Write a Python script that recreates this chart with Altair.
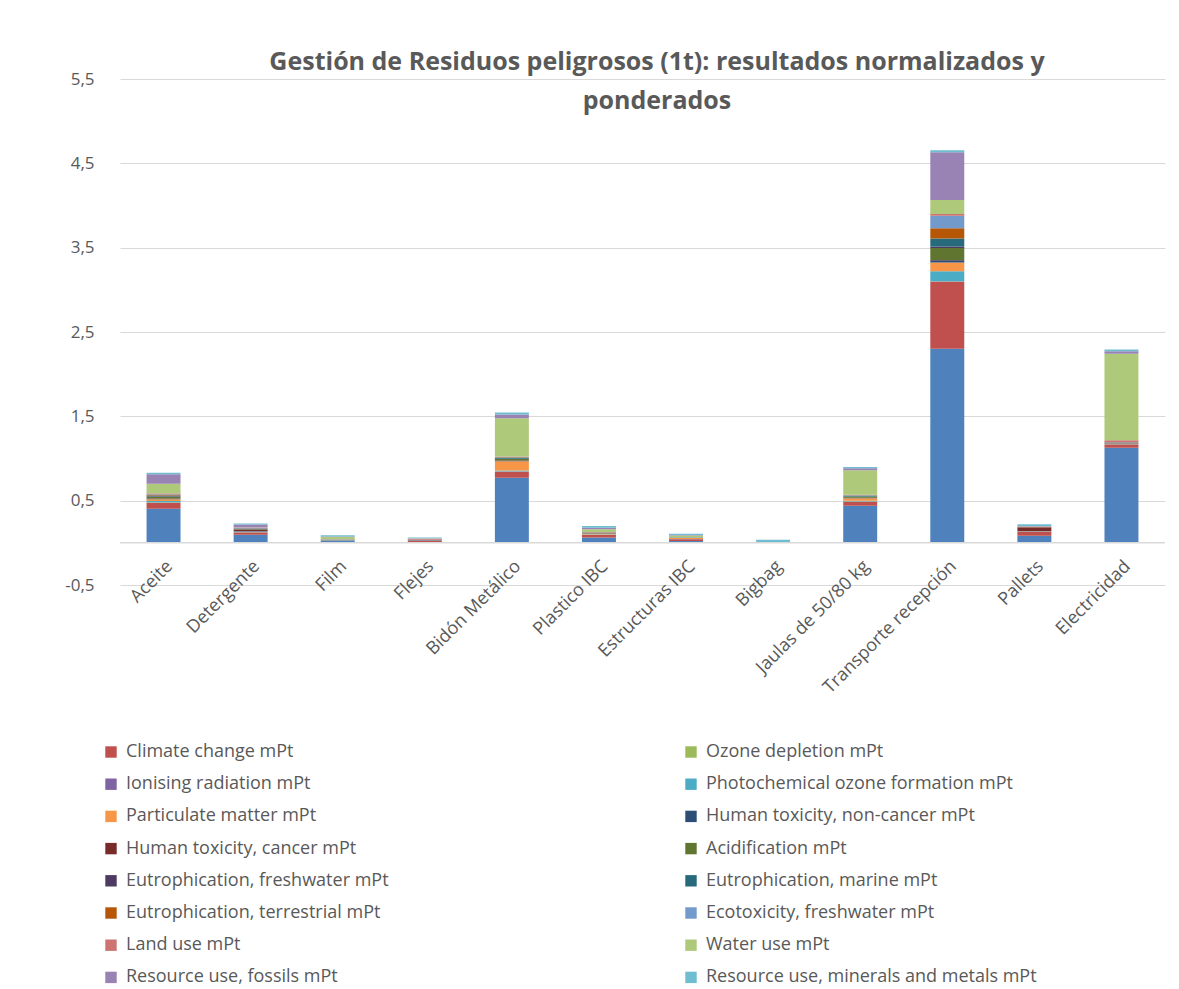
import altair as alt
import pandas as pd

categories = ["Aceite", "Detergente", "Film", "Flejes", "Bidón Metálico", "Plastico IBC",
              "Estructuras IBC", "Bigbag", "Jaulas de 50/80 kg", "Transporte recepción",
              "Pallets", "Electricidad"]

series = ["Serie 1",
          "Climate change mPt", "Ozone depletion mPt",
          "Ionising radiation mPt", "Photochemical ozone formation mPt",
          "Particulate matter mPt", "Human toxicity, non-cancer mPt",
          "Human toxicity, cancer mPt", "Acidification mPt",
          "Eutrophication, freshwater mPt", "Eutrophication, marine mPt",
          "Eutrophication, terrestrial mPt", "Ecotoxicity, freshwater mPt",
          "Land use mPt", "Water use mPt",
          "Resource use, fossils mPt", "Resource use, minerals and metals mPt"]

colors = ["#4F81BD", "#C0504D", "#9BBB59", "#8064A2", "#4BACC6", "#F79646",
          "#2C4D75", "#772C2A", "#5F7530", "#4D3B62", "#276A7C", "#B65708",
          "#729ACA", "#CD7371", "#AFC97A", "#9983B5", "#6FBDD1"]

s0 = [0.405, 0.095, 0.022, 0.004, 0.771, 0.062, 0.022, 0.003, 0.44, 2.30, 0.085, 1.127]
climate = [0.068, 0.028, 0.004, 0.02, 0.071, 0.034, 0.02, 0.002, 0.045, 0.795, 0.045, 0.04]
ozone = [0.005, 0.002, 0.001, 0.001, 0.004, 0.002, 0.001, 0, 0.004, 0.003, 0.001, 0.002]
ionising = [0.003, 0.002, 0.001, 0.001, 0.003, 0.002, 0.001, 0, 0.003, 0.003, 0.001, 0.003]
photochem = [0.015, 0.004, 0.002, 0.001, 0.008, 0.003, 0.002, 0.002, 0.006, 0.119, 0.002, 0.003]
particulate = [0.02, 0.004, 0.002, 0.001, 0.11, 0.006, 0.01, 0, 0.03, 0.103, 0.003, 0.004]
htox_nc = [0.005, 0.006, 0.001, 0.001, 0.004, 0.002, 0.001, 0, 0.004, 0.027, 0.004, 0.002]
htox_c = [0.005, 0.015, 0.001, 0.001, 0.004, 0.003, 0.001, 0, 0.004, 0.003, 0.04, 0.003]
acid = [0.02, 0.004, 0.001, 0.001, 0.018, 0.003, 0.002, 0, 0.012, 0.142, 0.002, 0.004]
eu_fresh = [0.005, 0.006, 0.001, 0.001, 0.003, 0.001, 0.001, 0, 0.002, 0.02, 0.002, 0.001]
eu_marine = [0.01, 0.003, 0.001, 0.001, 0.012, 0.002, 0.001, 0, 0.006, 0.095, 0.001, 0.002]
eu_terr = [0.012, 0.003, 0.001, 0.001, 0.006, 0.002, 0.001, 0, 0.005, 0.119, 0.001, 0.002]
ecotox = [0.01, 0.004, 0.003, 0.003, 0.006, 0.004, 0.002, 0, 0.006, 0.15, 0.002, 0.004]
land = [0.004, 0.002, 0.001, 0.01, 0.003, 0.002, 0.001, 0, 0.003, 0.02, 0.002, 0.018]
water = [0.115, 0.004, 0.028, 0.003, 0.455, 0.032, 0.022, 0.002, 0.29, 0.166, 0.004, 1.028]
fossils = [0.11, 0.035, 0.006, 0.003, 0.045, 0.018, 0.005, 0, 0.025, 0.565, 0.006, 0.028]
minerals = [0.02, 0.012, 0.015, 0.01, 0.022, 0.022, 0.015, 0.028, 0.015, 0.024, 0.018, 0.022]

values = [s0, climate, ozone, ionising, photochem, particulate, htox_nc, htox_c, acid,
          eu_fresh, eu_marine, eu_terr, ecotox, land, water, fossils, minerals]

y_ticks = [-0.5, 0.5, 1.5, 2.5, 3.5, 4.5, 5.5]
title_lines = ["Gestión de Residuos peligrosos (1t): resultados normalizados y", "ponderados"]

rows = []
for si, (name, vals) in enumerate(zip(series, values)):
    for cat, v in zip(categories, vals):
        rows.append({"cat": cat, "serie": name, "idx": si, "v": v})
df = pd.DataFrame(rows)

FONT = "Open Sans"
GRAY = "#595959"

bars = alt.Chart(df).mark_bar().encode(
    x=alt.X("cat:N", sort=categories,
            scale=alt.Scale(paddingInner=0.61, paddingOuter=0.305),
            axis=alt.Axis(title=None, labelAngle=-45, labelFontSize=18, labelFont=FONT,
                          labelColor=GRAY, ticks=False, domain=False, offset=-28,
                          labelPadding=0, grid=False)),
    y=alt.Y("sum(v):Q", stack="zero",
            scale=alt.Scale(domain=[-0.5, 5.5], nice=False, zero=False),
            axis=alt.Axis(title=None, values=y_ticks, grid=True, gridColor="#d9d9d9",
                          gridWidth=1.2, domain=False, ticks=False, labelPadding=26,
                          labelFontSize=17, labelFont=FONT, labelColor=GRAY,
                          labelExpr="replace(toString(datum.value), '.', ',')")),
    color=alt.Color("serie:N",
                    scale=alt.Scale(domain=series, range=colors),
                    legend=alt.Legend(values=series[1:], orient="none", legendX=-18,
                                      legendY=664, columns=2, direction="horizontal",
                                      title=None,
                                      symbolType="square", symbolSize=130,
                                      symbolStrokeWidth=0, labelFontSize=18,
                                      labelFont=FONT, labelColor=GRAY, labelOffset=6,
                                      rowPadding=14.2, columnPadding=225, gridAlign="all",
                                      labelLimit=600, padding=0)),
    order=alt.Order("idx:Q", sort="ascending"),
)

baseline = alt.Chart(pd.DataFrame({"z": [0]})).mark_rule(
    color="#d9d9d9", strokeWidth=1.5
).encode(y="z:Q")

title = alt.Chart(pd.DataFrame({"t": [0]})).mark_text(
    text=title_lines, font=FONT, fontSize=25, fontWeight="bold", color=GRAY,
    lineHeight=39, align="center", baseline="middle"
).encode(x=alt.value(537), y=alt.value(-17))

chart = alt.layer(bars, baseline, title).properties(
    width=1045, height=506,
    autosize=alt.AutoSizeParams(type="none"),
    padding={"left": 112, "top": 71, "right": 6, "bottom": 404},
    background="white",
).configure_view(stroke=None)

chart.save("out.html", embed_options={"renderer": "svg", "actions": False})
